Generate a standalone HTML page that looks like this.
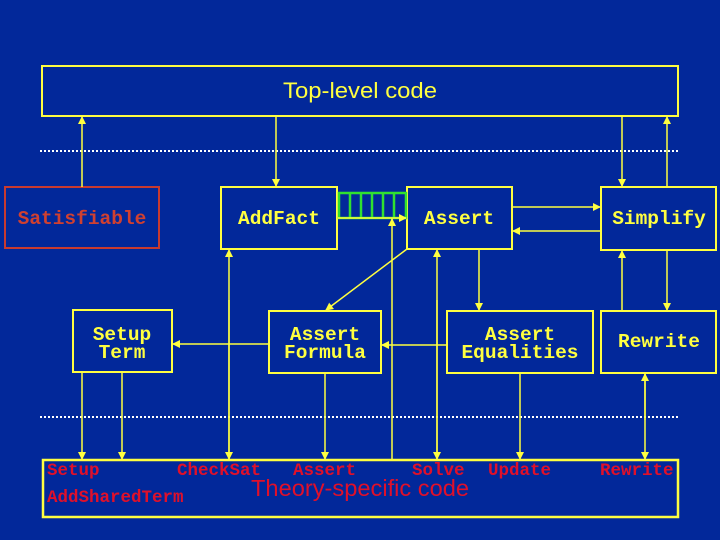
<!DOCTYPE html>
<html><head><meta charset="utf-8"><style>
html,body{margin:0;padding:0;background:#02289a;}
svg{display:block}
.m{font-family:"Liberation Mono",monospace;font-weight:bold;font-size:19.5px;}
.r{font-family:"Liberation Mono",monospace;font-weight:bold;font-size:17.5px;fill:#e0102a;}
</style></head><body>
<svg width="720" height="540" viewBox="0 0 720 540" xmlns="http://www.w3.org/2000/svg">
<defs>
<marker id="a" markerWidth="8" markerHeight="8" refX="7" refY="4" orient="auto" markerUnits="userSpaceOnUse">
<path d="M0,0 L8,4 L0,8 z" fill="#ffff40"/></marker>
</defs>
<rect width="720" height="540" fill="#02289a"/>
<g fill="none" stroke="#ffff40" stroke-width="2">
<rect x="42" y="66" width="636" height="50"/>
<rect x="221" y="187" width="116" height="62"/>
<rect x="407" y="187" width="105" height="62"/>
<rect x="601" y="187" width="115" height="63"/>
<rect x="73" y="310" width="99" height="62"/>
<rect x="269" y="311" width="112" height="62"/>
<rect x="447" y="311" width="146" height="62"/>
<rect x="601" y="311" width="115" height="62"/>
<rect x="43" y="460" width="635" height="57" stroke-width="2.5"/>
</g>
<rect x="5" y="187" width="154" height="61" fill="none" stroke="#c83a30" stroke-width="2"/>
<g stroke="#ffffff" stroke-width="2" stroke-dasharray="2,2">
<line x1="40" y1="151" x2="678" y2="151"/>
<line x1="40" y1="417" x2="678" y2="417"/>
</g>
<g fill="none" stroke="#30e030" stroke-width="2.5">
<rect x="339" y="193" width="67" height="25"/>
<line x1="350" y1="193" x2="350" y2="218"/><line x1="361" y1="193" x2="361" y2="218"/>
<line x1="372" y1="193" x2="372" y2="218"/><line x1="383" y1="193" x2="383" y2="218"/>
<line x1="394" y1="193" x2="394" y2="218"/>
</g>
<g stroke="#ffff40" stroke-width="1.5" fill="none">
<line x1="82" y1="187" x2="82" y2="117" marker-end="url(#a)"/>
<line x1="276" y1="116" x2="276" y2="186" marker-end="url(#a)"/>
<line x1="622" y1="116" x2="622" y2="186" marker-end="url(#a)"/>
<line x1="667" y1="187" x2="667" y2="117" marker-end="url(#a)"/>
<line x1="512" y1="207" x2="600" y2="207" marker-end="url(#a)"/>
<line x1="601" y1="231" x2="513" y2="231" marker-end="url(#a)"/>
<line x1="338" y1="218" x2="406" y2="218" marker-end="url(#a)"/>
<line x1="392" y1="460" x2="392" y2="219" marker-end="url(#a)"/>
<line x1="229" y1="460" x2="229" y2="250" marker-end="url(#a)"/>
<line x1="229" y1="300" x2="229" y2="459" marker-end="url(#a)"/>
<line x1="437" y1="460" x2="437" y2="250" marker-end="url(#a)"/>
<line x1="437" y1="300" x2="437" y2="459" marker-end="url(#a)"/>
<line x1="407" y1="249" x2="326" y2="310" marker-end="url(#a)"/>
<line x1="479" y1="249" x2="479" y2="310" marker-end="url(#a)"/>
<line x1="667" y1="250" x2="667" y2="310" marker-end="url(#a)"/>
<line x1="622" y1="311" x2="622" y2="251" marker-end="url(#a)"/>
<line x1="269" y1="344" x2="173" y2="344" marker-end="url(#a)"/>
<line x1="447" y1="345" x2="382" y2="345" marker-end="url(#a)"/>
<line x1="82" y1="372" x2="82" y2="459" marker-end="url(#a)"/>
<line x1="122" y1="372" x2="122" y2="459" marker-end="url(#a)"/>
<line x1="325" y1="373" x2="325" y2="459" marker-end="url(#a)"/>
<line x1="520" y1="373" x2="520" y2="459" marker-end="url(#a)"/>
<line x1="645" y1="373" x2="645" y2="459" marker-end="url(#a)"/>
<line x1="645" y1="420" x2="645" y2="374" marker-end="url(#a)"/>
</g>
<text x="283" y="98" textLength="154" lengthAdjust="spacingAndGlyphs" font-family="Liberation Sans,sans-serif" font-size="22" fill="#ffff40">Top-level code</text>
<g class="m" fill="#ffff40" text-anchor="middle">
<text x="82" y="224" fill="#d04030">Satisfiable</text>
<text x="279" y="224">AddFact</text>
<text x="459" y="224">Assert</text>
<text x="659" y="224">Simplify</text>
<text x="122" y="340">Setup</text><text x="122" y="358">Term</text>
<text x="325" y="340">Assert</text><text x="325" y="358">Formula</text>
<text x="520" y="340">Assert</text><text x="520" y="358">Equalities</text>
<text x="659" y="347">Rewrite</text>
</g>
<g class="r">
<text x="47" y="475">Setup</text>
<text x="177" y="475">CheckSat</text>
<text x="293" y="475">Assert</text>
<text x="412" y="475">Solve</text>
<text x="488" y="475">Update</text>
<text x="600" y="475">Rewrite</text>
<text x="47" y="502">AddSharedTerm</text>
</g>
<text x="251" y="496" textLength="218" lengthAdjust="spacingAndGlyphs" font-family="Liberation Sans,sans-serif" font-size="23" fill="#e0102a">Theory-specific code</text>
</svg>
</body></html>
